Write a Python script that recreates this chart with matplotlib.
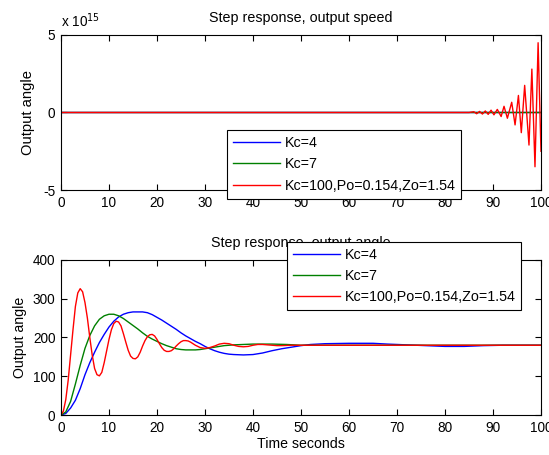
import matplotlib
matplotlib.use("Agg")
import matplotlib.pyplot as plt
from matplotlib.ticker import ScalarFormatter

plt.rcParams['font.family'] = ['Liberation Sans', 'DejaVu Sans']
plt.rcParams['axes.unicode_minus'] = False

labels = ['Kc=4', 'Kc=7', 'Kc=100,Po=0.154,Zo=1.54']
colors = ['#0000ff', '#008000', '#ff0000']

# ---- top plot: output speed (units of 1e15) ----
speed_scale = 1e15
speed_flat_t = [0, 100]
speed_flat_v = [0, 0]
speed_red_t = [0, 85, 86, 86.6, 87.2, 87.8, 88.4, 89.0, 89.6, 90.2, 90.9, 91.7,
               92.3, 93.0, 93.9, 94.6, 95.3, 95.9, 96.6, 97.5, 98.1, 98.75, 99.4, 100]
speed_red_v = [0, 0, 0.05, -0.08, 0.07, -0.1, 0.1, -0.12, 0.15, -0.15, 0.2, -0.26,
               0.4, -0.37, 0.66, -0.8, 1.1, -1.3, 1.75, -2.1, 2.8, -3.5, 4.5, -2.5]

# ---- bottom plot: output angle ----
blue_t = [0, 1, 2, 3, 4, 5, 6, 7, 8, 9, 10, 11, 12, 13, 14, 15, 16, 17, 18, 19, 20,
          21, 22, 23, 24, 25, 26, 27, 28, 29, 30, 31, 32, 33, 34, 35, 36, 38, 40, 42,
          44, 46, 48, 50, 52, 55, 60, 65, 68, 72, 76, 80, 84, 88, 92, 100]
blue_v = [0, 4, 18, 38, 68, 104, 135, 162, 187, 208, 227, 242, 253, 260, 264, 266,
          266, 266, 264, 259, 252, 245, 237, 229, 221, 212, 204, 197, 190, 184, 177,
          171, 166, 162, 159, 157, 156, 155, 156, 160, 166, 171, 175, 179, 182, 184,
          185, 185, 183, 181, 179, 177, 177, 179, 180, 180]

green_t = [0, 1, 2, 3, 4, 5, 6, 7, 8, 9, 10, 11, 12, 13, 14, 15, 16, 17, 18, 19, 20,
           21, 22, 23, 24, 25, 26, 27, 28, 29, 30, 31, 32, 33, 34, 35, 36, 38, 40, 44,
           47, 50, 100]
green_v = [0, 8, 35, 80, 128, 172, 205, 230, 247, 256, 260, 260, 256, 249, 240, 231,
           222, 212, 203, 196, 190, 184, 179, 175, 171, 169, 168, 168, 168, 169, 171,
           173, 175, 177, 179, 180, 181, 182, 183, 183, 182, 180, 180]

red_t = [0, 0.5, 1.0, 1.5, 2.0, 2.5, 3.0, 3.5, 4.0, 4.5, 5.0, 5.5, 6.0, 6.5, 7.0, 7.5,
         8.0, 8.5, 9.0, 9.5, 10.0, 10.5, 11.0, 11.5, 12.0, 12.5, 13.0, 13.5, 14.0,
         14.5, 15.0, 15.5, 16.0, 16.5, 17.0, 17.5, 18.0, 18.5, 19.0, 19.5, 20.0, 20.5,
         21.0, 21.5, 22.0, 22.5, 23.0, 23.5, 24.0, 24.5, 25.0, 25.5, 26.0, 26.5, 27,
         28, 29, 30, 31, 32, 33, 34, 35, 36, 37, 38, 39, 40, 41, 42, 43, 44, 45, 46,
         48, 50, 100]
red_v = [0, 10, 40, 90, 155, 220, 280, 315, 326, 318, 290, 250, 200, 155, 120, 104,
         101, 110, 135, 165, 195, 220, 236, 242, 240, 230, 210, 188, 167, 152, 146,
         145, 150, 162, 178, 192, 202, 207, 208, 204, 195, 184, 174, 167, 164, 164,
         166, 171, 178, 184, 189, 192, 192, 191, 188, 180, 174, 172, 174, 178, 183,
         185, 184, 180, 177, 176, 177, 180, 182, 182, 181, 180, 179, 179, 180, 180,
         180]

x_ticks = list(range(0, 101, 10))
speed_ticks = [-5, 0, 5]
angle_ticks = [0, 100, 200, 300, 400]

fig = plt.figure(figsize=(5.49, 4.55), dpi=100)
ax1 = fig.add_axes([0.1111, 0.5824, 0.8743, 0.3407])
ax2 = fig.add_axes([0.1111, 0.0879, 0.8743, 0.3407])

fs_tick = 9.8
fs_title = 10.3
fs_leg = 10.3
fs_lab = 10.2
for ax in (ax1, ax2):
    ax.tick_params(direction='in', top=True, right=True, length=4, width=0.8,
                   labelsize=fs_tick, pad=4)
    for s in ax.spines.values():
        s.set_linewidth(0.8)
    ax.set_xlim(0, 100)
    ax.set_xticks(x_ticks)

lw = 1.0
leg_kw = dict(loc='upper left', fontsize=fs_leg, frameon=True, fancybox=False,
              framealpha=1, edgecolor='black', handlelength=3.3, handletextpad=0.3,
              labelspacing=0.5, borderpad=0.42, borderaxespad=0)

# top
ax1.plot(speed_flat_t, [v * speed_scale for v in speed_flat_v], color=colors[0], lw=lw, label=labels[0])
ax1.plot(speed_flat_t, [v * speed_scale for v in speed_flat_v], color=colors[1], lw=lw, label=labels[1])
ax1.plot(speed_red_t, [v * speed_scale for v in speed_red_v], color=colors[2], lw=lw, label=labels[2])
ax1.set_ylim(-5 * speed_scale, 5 * speed_scale)
ax1.set_yticks([v * speed_scale for v in speed_ticks])
fmt = ScalarFormatter()
fmt.set_powerlimits((0, 0))
ax1.yaxis.set_major_formatter(fmt)
ax1.yaxis.get_offset_text().set_visible(False)
ax1.text(0.0, 1.03, r'x 10$^{15}$', transform=ax1.transAxes, fontsize=fs_tick,
         ha='left', va='bottom')
ax1.set_title('Step response, output speed', fontsize=fs_title, pad=9)
ax1.set_ylabel('Output angle', fontsize=10.6, labelpad=6)
leg1 = ax1.legend(bbox_to_anchor=(0.346, 0.385), **leg_kw)
leg1.get_frame().set_linewidth(0.8)

# bottom
ax2.plot(blue_t, blue_v, color=colors[0], lw=lw, label=labels[0])
ax2.plot(green_t, green_v, color=colors[1], lw=lw, label=labels[1])
ax2.plot(red_t, red_v, color=colors[2], lw=lw, label=labels[2])
ax2.set_ylim(0, 400)
ax2.set_yticks(angle_ticks)
ax2.set_title('Step response, output angle', fontsize=fs_title, pad=9)
ax2.set_ylabel('Output angle', fontsize=10.2, labelpad=4)
ax2.set_xlabel('Time seconds', fontsize=fs_lab, labelpad=2)
leg2 = ax2.legend(bbox_to_anchor=(0.471, 1.116), **leg_kw)
leg2.get_frame().set_linewidth(0.8)
leg2.set_zorder(10)

fig.savefig('out.png', dpi=100, facecolor='white')
